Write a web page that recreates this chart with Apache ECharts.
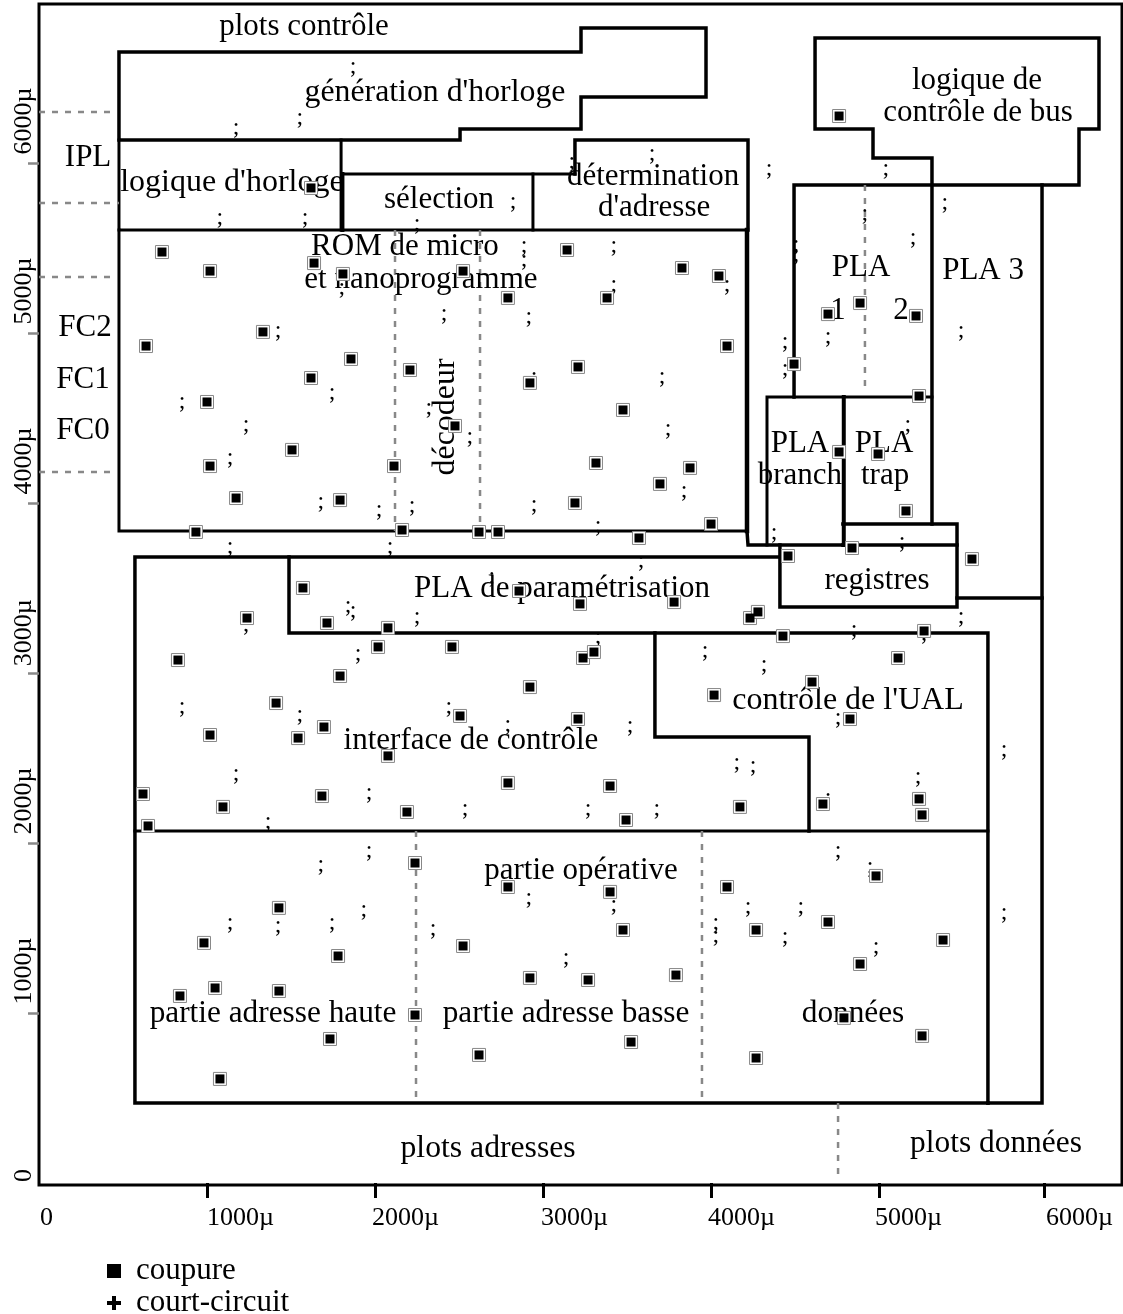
<!DOCTYPE html>
<html><head><meta charset="utf-8">
<style>html,body{margin:0;padding:0;background:#fff}#c{width:1123px;height:1314px}</style>
<script src="https://cdn.jsdelivr.net/npm/echarts@6/dist/echarts.min.js"></script>
</head><body><div id="c"></div>
<script>
// All coordinates in microns on the die
const xTicks = [1000,2000,3000,4000,5000,5982];
const xLabelAnchors = [6,1000,1982,2988,3982,4976,5994];
const yTicks = [1000,2000,3000,4000,5000,6000];
const yLabelAnchors = [6,1050,2050,3040,4050,5050,6050];

const coupures = [[732,5476],[1018,5364],[1637,5411],[1809,5347],[1619,5853],[1333,5006],[637,4923],[1857,4847],[1619,4735],[1000,4594],[1506,4312],[1018,4217],[1173,4029],[1792,4017],[934,3829],[1571,3500],[1714,3294],[1238,3323],[827,3076],[1792,2982],[1411,2823],[1696,2682],[1018,2635],[1542,2617],[2018,3153],[619,2288],[1095,2212],[1684,2276],[649,2100],[1428,1618],[982,1412],[1780,1335],[1048,1147],[1428,1129],[839,1100],[1732,847],[1077,612],[3143,5488],[3827,5382],[4047,5335],[2524,5364],[2791,5206],[3381,5206],[4095,4923],[2208,4782],[3208,4800],[2922,4706],[3476,4547],[2476,4453],[2113,4217],[3315,4235],[3875,4206],[3696,4112],[3190,4000],[4000,3876],[2161,3841],[2619,3829],[2732,3829],[3571,3794],[2857,3482],[3220,3406],[3780,3417],[2077,3265],[2458,3153],[3238,3088],[3303,3123],[2922,2917],[4018,2870],[2506,2747],[3208,2729],[4232,3323],[4279,3359],[2077,2512],[2791,2353],[3399,2335],[2190,2182],[3494,2135],[4172,2212],[2238,1882],[2791,1741],[3399,1712],[3476,1488],[2524,1394],[2922,1206],[3268,1194],[3791,1223],[2238,988],[4095,1741],[4268,1488],[2619,753],[3524,829],[4791,971],[5256,865],[4268,735],[4666,2229],[5238,2259],[5256,2165],[4982,1806],[4696,1535],[5381,1429],[4887,1288],[4762,4300],[4994,4288],[5160,3953],[4458,3688],[4839,3735],[5553,3670],[4428,3217],[5268,3247],[5113,3088],[4601,2947],[4827,2729],[4762,6276],[4696,5111],[4887,5176],[5220,5100],[4494,4817],[5238,4629]];

const pointVirgules = [[1869,6564],[1553,6264],[1173,6205],[1077,5676],[1583,5676],[1803,5264],[1423,5011],[851,4594],[1744,4647],[1232,4459],[1137,4264],[1678,4006],[2024,3959],[1137,3741],[1839,3394],[1869,3365],[1232,3282],[1899,3112],[851,2800],[1553,2753],[1173,2406],[1964,2294],[1363,2123],[1964,1953],[1678,1871],[1137,1529],[1423,1512],[1744,1529],[1934,1606],[2250,5641],[3172,6005],[3649,6053],[2821,5770],[2887,5511],[2887,5429],[3422,5511],[2411,5111],[2916,5094],[3422,5282],[4095,5282],[3708,4741],[2946,4741],[3744,4435],[2321,4559],[2565,4388],[2220,3982],[2946,3988],[3839,4070],[3327,3865],[2089,3741],[3583,3659],[2696,3565],[2250,3329],[3327,3212],[2440,2800],[2791,2694],[3518,2688],[4154,2470],[4250,2453],[2536,2200],[3268,2200],[3678,2200],[2916,1676],[3422,1635],[2345,1494],[4029,1529],[4220,1623],[4029,1453],[3137,1323],[4375,3823],[5137,3770],[4851,3253],[5488,3329],[5268,3229],[4315,3047],[4756,2735],[5172,4459],[3964,3129],[4345,5964],[5041,5964],[5392,5764],[4916,5700],[5202,5558],[4506,5517],[4506,5459],[5488,5011],[4696,4976],[4440,4947],[4440,4788],[4696,2265],[5232,2388],[5744,2547],[4756,1953],[4946,1859],[4535,1623],[4440,1447],[4982,1388],[5744,1588]];

// outlines of the blocks
const generationHorloge = [[476,6653],[3226,6653],[3226,6794],[3970,6794],[3970,6388],[3226,6388],[3226,6200],[2506,6200],[2506,6135],[476,6135],[476,6653]];
const logiqueHorloge = [[476,6135],[476,5606],[4214,5606]];
const logiqueDroite = [[1798,6135],[1798,5606]];
const selectionGauche = [[1806,5935],[1806,5606]];
const selectionHaut = [[1803,5935],[3190,5935]];
const selectionDroite = [[2940,5935],[2940,5606]];
const determination = [[3190,5935],[3190,6135],[4220,6135],[4220,5606]];
const rom = [[476,5606],[476,3835],[4214,3835]];
const romDroite = [[4214,5606],[4214,3835]];
const liaison = [[4214,3835],[4220,3835],[4220,3753],[4785,3753]];
const plaBranch = [[4333,3753],[4333,4623],[5315,4623]];
const plaSeparation = [[4790,4623],[4790,3753]];
const controleBus = [[4494,4623],[4494,5870],[6190,5870],[6190,6200],[6309,6200],[6309,6735],[4619,6735],[4619,6200],[4964,6200],[4964,6029],[5315,6029],[5315,3876]];
const registres = [[4785,3876],[5464,3876],[5464,3388],[4410,3388],[4410,3753]];
const registresHaut = [[4785,3753],[5464,3753]];
const pla3Bas = [[5464,3441],[5970,3441]];
const pla3Droite = [[5970,5870],[5970,471],[5648,471]];
const interfaceControle = [[4410,3682],[571,3682],[571,471],[5648,471]];
const paramGauche = [[1488,3682],[1488,3235],[5648,3235],[5648,471]];
const controleUAL = [[3666,3235],[3666,2623],[4583,2623],[4583,2070]];
const operative = [[571,2070],[5648,2070]];
const outlines = [
  [generationHorloge,3.5],[logiqueHorloge,3],[logiqueDroite,3],[selectionGauche,4],[selectionHaut,3],[selectionDroite,3],
  [determination,3.5],[rom,3],[romDroite,4.5],[liaison,3.5],[plaBranch,3],[plaSeparation,4],[controleBus,3.5],[registres,3.5],
  [registresHaut,3.5],[pla3Bas,3.5],[pla3Droite,3.5],[interfaceControle,3.5],[paramGauche,3.5],[controleUAL,3.5],[operative,3]
];

const pointilles = [
  [[0,6300],[430,6300]],[[0,5764],[476,5764]],[[0,5329],[430,5329]],[[0,4182],[430,4182]],
  [[2119,5606],[2119,3835]],[[2625,5606],[2625,3835]],[[4916,5870],[4916,4664]],
  [[2244,2070],[2244,471]],[[3946,2070],[3946,471]],[[4756,471],[4756,47]]
];

const textes = [
  ["plots contrôle",1577,6815],["génération d'horloge",2357,6429],["IPL",292,6047],
  ["logique d'horloge",1148,5900],["sélection",2381,5800],["détermination",3655,5935],["d'adresse",3661,5753],
  ["ROM de micro",2178,5523],["et nanoprogramme",2273,5329],["FC2",274,5047],["FC1",262,4741],["FC0",262,4441],
  ["logique de",5583,6500],["contrôle de bus",5589,6312],["PLA",4893,5400],["1",4756,5147],["2",5131,5147],["PLA 3",5619,5382],
  ["PLA",4529,4365],["branch",4529,4176],["PLA",5030,4365],["trap",5036,4176],["registres",4988,3559],
  ["PLA de paramétrisation",3113,3512],["contrôle de l'UAL",4815,2853],["interface de contrôle",2571,2618],
  ["partie opérative",3226,1853],["partie adresse haute",1393,1012],["partie adresse basse",3137,1012],["données",4845,1012],
  ["plots adresses",2673,218],["plots données",5696,247]
];
const decodeur = ["décodeur",2423,4506];
const taillesParticulieres = {"génération d'horloge":31.8,"logique d'horloge":32,"contrôle de l'UAL":32,"partie adresse haute":31.3,"partie adresse basse":31.3,"données":31.3,"plots données":31.4,"plots adresses":31.7};

const inkSerif = "'Liberation Serif','Times New Roman',serif";
const axisText = v=>{const r=Math.round(v/1000)*1000;return r===0?'0':r+'µ';};
const series = [];
outlines.forEach(([pts,w],i)=>series.push({name:'o'+i,type:'line',data:pts,showSymbol:false,silent:true,z:2,
  lineStyle:{color:'#000',width:w,cap:'square',join:'miter'}}));
pointilles.forEach((pts,i)=>series.push({name:'d'+i,type:'line',data:pts,showSymbol:false,silent:true,z:3,
  lineStyle:{color:'#888',width:2.5,type:[6,7]}}));
series.push({name:'pv',type:'scatter',data:pointVirgules,symbolSize:1,silent:true,z:4,itemStyle:{color:'transparent',opacity:1},
  label:{show:true,position:'inside',formatter:';',color:'#000',fontFamily:inkSerif,fontSize:24}});
series.push({name:'t',type:'scatter',symbolSize:1,silent:true,z:5,itemStyle:{color:'transparent',opacity:1},
  data:textes.map(t=>{const d={value:[t[1],t[2]],name:t[0]};if(taillesParticulieres[t[0]])d.label={fontSize:taillesParticulieres[t[0]]};return d;})
    .concat([{value:[decodeur[1],decodeur[2]],name:decodeur[0],label:{rotate:90,offset:[0,0],fontSize:32}}]),
  label:{show:true,position:'inside',offset:[0,2.5],formatter:p=>p.name,color:'#000',fontFamily:inkSerif,fontSize:31}});
series.push({name:'contour',type:'scatter',data:coupures,symbol:'rect',symbolSize:13,silent:true,z:6,
  itemStyle:{color:'#fff',borderColor:'#888',borderWidth:1,opacity:1}});
series.push({name:'coupure',type:'scatter',data:coupures,symbol:'rect',symbolSize:9,silent:true,z:7,itemStyle:{color:'#000',opacity:1}});
series.push({name:'court-circuit',type:'scatter',data:[],symbol:'rect',itemStyle:{color:'#000',opacity:1}});

const chart = echarts.init(document.getElementById('c'),null,{renderer:'canvas'});
chart.setOption({
  animation:false,backgroundColor:'#fff',
  grid:{left:39,top:4,width:1083,height:1181,show:true,borderColor:'#000',borderWidth:3,backgroundColor:'transparent'},
  xAxis:{type:'value',min:0,max:6446,splitLine:{show:false},
    axisLine:{show:false},
    axisTick:{show:true,length:15,inside:false,lineStyle:{color:'#000',width:3},customValues:xTicks},
    axisLabel:{show:true,margin:20,align:'left',customValues:xLabelAnchors,color:'#000',fontFamily:inkSerif,fontSize:26,formatter:axisText}},
  yAxis:{type:'value',min:-12,max:6935,offset:4,splitLine:{show:false},
    axisLine:{show:false},
    axisTick:{show:true,length:11,lineStyle:{color:'#888',width:2.5},customValues:yTicks},
    axisLabel:{show:true,margin:11,rotate:90,align:'left',verticalAlign:'middle',customValues:yLabelAnchors,color:'#000',fontFamily:inkSerif,fontSize:26,formatter:axisText}},
  legend:{show:true,orient:'vertical',left:107,top:1255,height:90,padding:0,itemWidth:14,itemHeight:14,itemGap:0,selectedMode:false,
    textStyle:{color:'#000',fontFamily:inkSerif,fontSize:31,lineHeight:32,padding:[0,0,0,10]},
    data:[{name:'coupure',icon:'rect'},
      {name:'court-circuit',icon:'path://M5,0L9,0L9,5L14,5L14,9L9,9L9,14L5,14L5,9L0,9L0,5L5,5Z'}]},
  series
});
</script></body></html>
